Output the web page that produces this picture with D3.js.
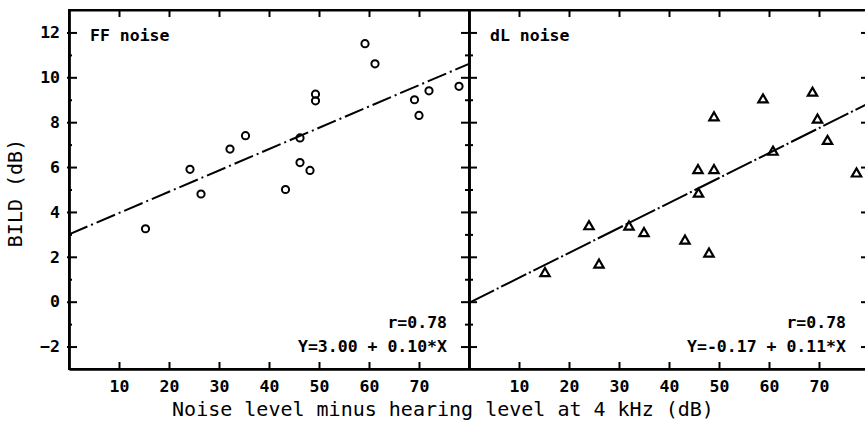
<!DOCTYPE html>
<html>
<head>
<meta charset="utf-8">
<script src="https://cdn.jsdelivr.net/npm/d3@7"></script>
<style>
  body { margin: 0; background: #fff; }
  svg { display: block; }
  .lbl { font-family: "DejaVu Sans Mono", monospace; font-weight: bold; font-size: 16.5px; fill: #000; }
  .ttl { font-family: "DejaVu Sans Mono", monospace; font-size: 20px; fill: #000; }
</style>
</head>
<body>
<script>
// tick values
var xTicks = [10, 20, 30, 40, 50, 60, 70];
var yTicks = [-2, 0, 2, 4, 6, 8, 10, 12];
var yMinor = [-1, 1, 3, 5, 7, 9, 11];

// FF noise (circles)
var ffX = [15.3, 24.2, 26.4, 32.2, 35.3, 43.3, 46.2, 46.2, 48.2, 49.3, 49.3, 59.2, 61.2, 69.1, 70.0, 72.0, 78.0];
var ffY = [3.25, 5.9, 4.8, 6.8, 7.4, 5.0, 7.3, 6.2, 5.85, 9.25, 8.95, 11.5, 10.6, 9.0, 8.3, 9.4, 9.6];

// dL noise (triangles)
var dlX = [15.2, 24.0, 26.0, 32.0, 35.0, 43.2, 45.8, 45.9, 48.0, 49.0, 49.0, 58.8, 60.8, 68.7, 69.7, 71.7, 77.5];
var dlY = [1.26, 3.35, 1.64, 3.33, 3.04, 2.71, 5.85, 4.8, 2.13, 5.85, 8.2, 9.0, 6.67, 9.3, 8.1, 7.15, 5.7];

// regression lines, end points at x = 0 and x = 80
var fitX = [0, 80];
var ffFit = [3.0, 10.6];
var dlFit = [-0.05, 8.85];

var width = 865, height = 424;
var svg = d3.select('body').append('svg').attr('width', width).attr('height', height);

var y = d3.scaleLinear().domain([-3, 13]).range([369, 10]);
var xL = d3.scaleLinear().domain([0, 80]).range([69, 469]);
var xR = d3.scaleLinear().domain([0, 80]).range([469, 869]);

function styleAxis(g) {
    g.selectAll('path.domain').attr('stroke', '#000').attr('stroke-width', 2);
    g.selectAll('.tick line').attr('stroke', '#000').attr('stroke-width', 2);
    g.selectAll('.tick text').attr('class', 'lbl').attr('fill', '#000');
}

function addAxis(axis, tx, ty) {
    var g = svg.append('g').attr('transform', 'translate(' + tx + ',' + ty + ')').call(axis);
    g.attr('font-family', null).attr('font-size', null);
    styleAxis(g);
    return g;
}

// frame
svg.append('rect')
    .attr('x', xL(0)).attr('y', y(13))
    .attr('width', xR(80) - xL(0)).attr('height', y(-3) - y(13))
    .attr('fill', 'none').attr('stroke', '#000').attr('stroke-width', 2);
svg.append('line')
    .attr('x1', xL(80)).attr('x2', xL(80)).attr('y1', y(13)).attr('y2', y(-3))
    .attr('stroke', '#000').attr('stroke-width', 2);

var none = function () { return ''; };

// left y axis: labels + small outside tick, inward major ticks, minor dots
addAxis(d3.axisLeft(y).tickValues(yTicks).tickSize(2).tickSizeOuter(0).tickPadding(7), xL(0), 0);
addAxis(d3.axisRight(y).tickValues(yTicks).tickSize(8).tickSizeOuter(0).tickFormat(none), xL(0), 0);
addAxis(d3.axisRight(y).tickValues(yMinor).tickSize(3).tickSizeOuter(0).tickFormat(none), xL(0), 0);

// middle axis: crossing ticks
addAxis(d3.axisLeft(y).tickValues(yTicks).tickSize(8).tickSizeOuter(0).tickFormat(none), xL(80), 0);
addAxis(d3.axisRight(y).tickValues(yTicks).tickSize(8).tickSizeOuter(0).tickFormat(none), xL(80), 0);
addAxis(d3.axisLeft(y).tickValues(yMinor).tickSize(4).tickSizeOuter(0).tickFormat(none), xL(80), 0);
addAxis(d3.axisRight(y).tickValues(yMinor).tickSize(4).tickSizeOuter(0).tickFormat(none), xL(80), 0);

// right axis (mostly off screen), inward ticks
addAxis(d3.axisLeft(y).tickValues(yTicks).tickSize(8).tickSizeOuter(0).tickFormat(none), xR(80), 0);
addAxis(d3.axisLeft(y).tickValues(yMinor).tickSize(3).tickSizeOuter(0).tickFormat(none), xR(80), 0);

// x axes for both panels
[xL, xR].forEach(function (xs) {
    addAxis(d3.axisBottom(xs).tickValues(xTicks).tickSize(0).tickSizeOuter(0).tickPadding(11), 0, y(-3));
    addAxis(d3.axisTop(xs).tickValues(xTicks).tickSize(7).tickSizeOuter(0).tickFormat(none), 0, y(-3));
    addAxis(d3.axisBottom(xs).tickValues(xTicks).tickSize(7).tickSizeOuter(0).tickFormat(none), 0, y(13));
});

// regression lines
function fitLine(xs, vals, dash) {
    var line = d3.line().x(function (d, i) { return xs(fitX[i]); }).y(function (d) { return y(d); });
    svg.append('path')
        .attr('d', line(vals))
        .attr('fill', 'none')
        .attr('stroke', '#000')
        .attr('stroke-width', 2)
        .attr('stroke-dasharray', dash);
}
fitLine(xL, ffFit, '20,4,2,4');
fitLine(xR, dlFit, '28,3,2,3');

// circles
svg.append('g').selectAll('circle')
    .data(ffX)
    .enter()
    .append('circle')
    .attr('cx', function (d) { return xL(d); })
    .attr('cy', function (d, i) { return y(ffY[i]); })
    .attr('r', 3.6)
    .attr('fill', 'none')
    .attr('stroke', '#000')
    .attr('stroke-width', 2);

// triangles
var tri = d3.symbol().type(d3.symbolTriangle).size(38);
svg.append('g').selectAll('path')
    .data(dlX)
    .enter()
    .append('path')
    .attr('d', tri)
    .attr('transform', function (d, i) { return 'translate(' + xR(d) + ',' + y(dlY[i]) + ')'; })
    .attr('fill', 'none')
    .attr('stroke', '#000')
    .attr('stroke-width', 2.2);

// panel texts
svg.append('text').attr('class', 'lbl').attr('x', 90).attr('y', 41).text('FF noise');
svg.append('text').attr('class', 'lbl').attr('x', 490).attr('y', 41).text('dL noise');

svg.append('text').attr('class', 'lbl').attr('x', 447).attr('y', 328).attr('text-anchor', 'end').text('r=0.78');
svg.append('text').attr('class', 'lbl').attr('x', 447).attr('y', 352).attr('text-anchor', 'end').text('Y=3.00 + 0.10*X');
svg.append('text').attr('class', 'lbl').attr('x', 846).attr('y', 328).attr('text-anchor', 'end').text('r=0.78');
svg.append('text').attr('class', 'lbl').attr('x', 846).attr('y', 352).attr('text-anchor', 'end').text('Y=-0.17 + 0.11*X');

// axis titles
svg.append('text').attr('class', 'ttl')
    .attr('x', 443).attr('y', 416).attr('text-anchor', 'middle')
    .text('Noise level minus hearing level at 4 kHz (dB)');
svg.append('text').attr('class', 'ttl')
    .attr('transform', 'translate(22,193) rotate(-90)')
    .attr('text-anchor', 'middle')
    .text('BILD (dB)');
</script>
</body>
</html>
